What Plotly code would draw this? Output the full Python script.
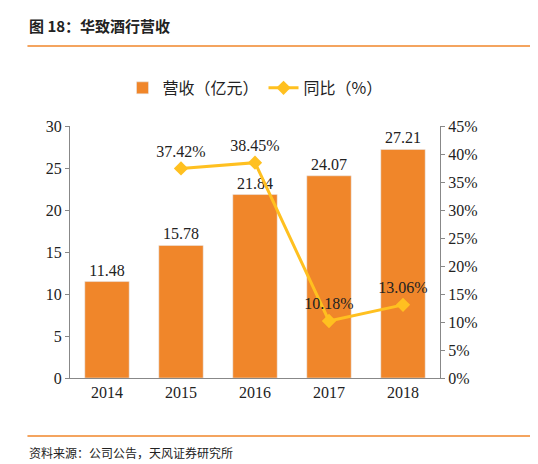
import plotly.graph_objects as go

years = ["2014", "2015", "2016", "2017", "2018"]
revenue = [11.48, 15.78, 21.84, 24.07, 27.21]
yoy_years = ["2015", "2016", "2017", "2018"]
yoy = [37.42, 38.45, 10.18, 13.06]

serif = "Liberation Serif"
cjk = "Noto Sans CJK SC"

fig = go.Figure()
fig.add_trace(go.Bar(
    x=years, y=revenue, name="营收（亿元）",
    marker_color="#F0862A", width=0.6,
    text=[f"{v:.2f}" for v in revenue], textposition="outside",
    textfont=dict(family=serif, size=16, color="#222"),
    cliponaxis=False,
))
fig.add_trace(go.Scatter(
    x=yoy_years, y=yoy, name="同比（%）", yaxis="y2",
    mode="lines+markers+text",
    line=dict(color="#FFC020", width=3),
    marker=dict(symbol="diamond", size=11, color="#FFC020"),
    text=[f"{v:.2f}%" for v in yoy], textposition="top center",
    textfont=dict(family=serif, size=16, color="#222"),
    cliponaxis=False,
))

fig.update_layout(
    width=538, height=464,
    margin=dict(l=62, r=106, t=118, b=94, autoexpand=False),
    plot_bgcolor="white", paper_bgcolor="white",
    showlegend=True,
    legend=dict(orientation="h", x=0.5, xanchor="center", y=1.151, yanchor="middle",
                font=dict(family=cjk, size=16, color="#222")),
    xaxis=dict(showline=True, linecolor="#888", ticks="", automargin=False,
               tickfont=dict(family=serif, size=16, color="#222")),
    yaxis=dict(range=[0, 30], dtick=5, showline=True, linecolor="#888", automargin=False,
               ticks="outside", ticklen=4, tickcolor="#888", showgrid=False,
               tickfont=dict(family=serif, size=16, color="#222")),
    yaxis2=dict(range=[0, 45], dtick=5, overlaying="y", side="right", automargin=False,
                ticksuffix="%", showline=True, linecolor="#888",
                ticks="outside", ticklen=4, tickcolor="#888", showgrid=False,
                tickfont=dict(family=serif, size=16, color="#222")),
    font=dict(family=cjk),
)

fig.add_annotation(text="<b>图 18：华致酒行营收</b>", xref="paper", yref="paper",
                   x=-0.115, y=1.397, xanchor="left", yanchor="middle", showarrow=False,
                   font=dict(family=cjk, size=15, color="#222"))
fig.add_annotation(text="资料来源：公司公告，天风证券研究所", xref="paper", yref="paper",
                   x=-0.115, y=-0.294, xanchor="left", yanchor="middle", showarrow=False,
                   font=dict(family=cjk, size=12, color="#222"))
fig.add_shape(type="line", xref="paper", yref="paper", x0=-0.115, x1=1.33,
              y0=1.317, y1=1.317, line=dict(color="#F0862A", width=1.5))
fig.add_shape(type="line", xref="paper", yref="paper", x0=-0.115, x1=1.33,
              y0=-0.23, y1=-0.23, line=dict(color="#F0862A", width=1.5))

fig.write_html("out.html")
